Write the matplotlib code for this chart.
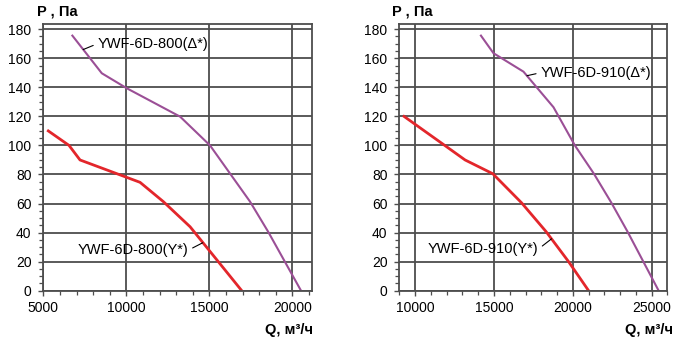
import matplotlib

matplotlib.use("Agg")
import matplotlib.pyplot as plt
from matplotlib.ticker import MultipleLocator

plt.rcParams["font.family"] = ["Liberation Sans", "DejaVu Sans"]

# YWF-6D-800
q800_delta = [6750, 8520, 10020, 13240, 15040, 17450, 18550, 20520]
p800_delta = [175.6, 149.7, 139.4, 119.8, 100, 61.3, 40.4, 0]
q800_y = [5300, 6550, 7210, 10825, 12230, 13840, 16950]
p800_y = [110, 100, 90, 74.6, 61.3, 44, 0]

# YWF-6D-910
q910_delta = [14175, 14970, 16870, 18775, 20130, 21320, 22440, 23470, 24450, 25440]
p910_delta = [175.6, 163.5, 150.8, 126.3, 100, 80.8, 60.6, 40.6, 20.4, 0]
q910_y = [9300, 11690, 13170, 14930, 16750, 18310, 19730, 21000]
p910_y = [120, 101.5, 90, 80.5, 60.5, 40.6, 20, 0]

PURPLE = "#9b4f96"
RED = "#e3262b"
GRID = "#4d4d4d"

fig = plt.figure(figsize=(6.8, 3.39), dpi=100)


def setup(ax, xlim, xmajor):
    ax.set_xlim(*xlim)
    ax.set_ylim(0, 183.6)
    ax.set_xticks(xmajor)
    ax.xaxis.set_minor_locator(MultipleLocator(1000))
    ax.yaxis.set_major_locator(MultipleLocator(20))
    ax.yaxis.set_minor_locator(MultipleLocator(5))
    ax.set_axisbelow(True)
    ax.grid(True, which="major", color=GRID, lw=1.3)
    for s in ax.spines.values():
        s.set_color(GRID)
        s.set_linewidth(1.3)
    ax.tick_params(which="both", direction="out", color=GRID, labelsize=10)
    ax.tick_params(which="major", length=3.5, width=1.0)
    ax.tick_params(which="minor", length=3, width=0.9)
    ax.tick_params(axis="x", pad=4)
    ax.tick_params(axis="y", pad=5)


def label(ax, text, xy, xytext, right=False):
    ax.annotate(text, xy=xy, xytext=xytext, fontsize=10.5,
                ha="right" if right else "left", va="center",
                arrowprops=dict(arrowstyle="-", color="black", lw=0.8,
                                shrinkA=1, shrinkB=0,
                                relpos=(1, 0.5) if right else (0, 0.5)))


ax1 = fig.add_axes([0.0637, 0.1425, 0.3956, 0.7867])
setup(ax1, (5000, 21200), [5000, 10000, 15000, 20000])
ax1.plot(q800_delta, p800_delta, color=PURPLE, lw=1.5)
ax1.plot(q800_y, p800_y, color=RED, lw=2)
label(ax1, "YWF-6D-800(Δ*)", (7400, 166), (8250, 170))
label(ax1, "YWF-6D-800(Y*)", (14600, 33), (13750, 28), right=True)

ax2 = fig.add_axes([0.5872, 0.1425, 0.3944, 0.7867])
setup(ax2, (9000, 26000), [10000, 15000, 20000, 25000])
ax2.plot(q910_delta, p910_delta, color=PURPLE, lw=1.5)
ax2.plot(q910_y, p910_y, color=RED, lw=2)
label(ax2, "YWF-6D-910(Δ*)", (17090, 148), (17930, 150))
label(ax2, "YWF-6D-910(Y*)", (18650, 35.7), (17820, 28.7), right=True)

fig.text(36.7 / 680, 1 - 11 / 339, "P , Па", fontsize=10.5, fontweight="bold",
         ha="left", va="center")
fig.text(392.3 / 680, 1 - 11 / 339, "P , Па", fontsize=10.5, fontweight="bold",
         ha="left", va="center")
fig.text(313 / 680, 1 - 330 / 339, "Q, м³/ч", fontsize=10.5, fontweight="bold",
         ha="right", va="center")
fig.text(673 / 680, 1 - 330 / 339, "Q, м³/ч", fontsize=10.5, fontweight="bold",
         ha="right", va="center")

fig.savefig("out.png", dpi=100)
